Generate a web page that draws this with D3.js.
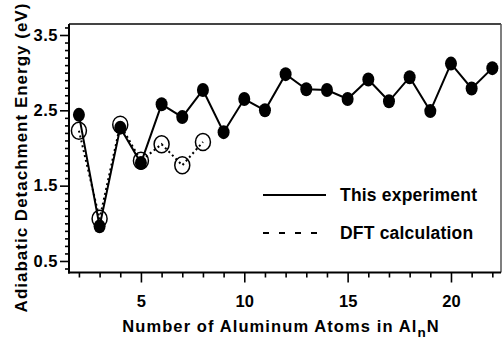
<!DOCTYPE html>
<html>
<head>
<meta charset="utf-8">
<script src="https://cdn.jsdelivr.net/npm/d3@7"></script>
<style>
  html, body { margin: 0; padding: 0; background: #fff; }
  svg { display: block; }
  text { font-family: "Liberation Sans", Arial, Helvetica, sans-serif; font-weight: bold; fill: #000; }
</style>
</head>
<body>
<svg id="chart" width="502" height="338"></svg>
<script>
// Cluster sizes n for Al_nN
const sizesExp = [2, 3, 4, 5, 6, 7, 8, 9, 10, 11, 12, 13, 14, 15, 16, 17, 18, 19, 20, 21, 22];
// Measured adiabatic detachment energies (eV)
const adeExp = [2.44, 0.96, 2.27, 1.80, 2.58, 2.41, 2.77, 2.21, 2.65, 2.50, 2.98, 2.78, 2.77, 2.65, 2.91, 2.62, 2.94, 2.49, 3.12, 2.79, 3.06];
// DFT-calculated values for the small clusters
const sizesDft = [2, 3, 4, 5, 6, 7, 8];
const adeDft = [2.23, 1.06, 2.31, 1.83, 2.05, 1.77, 2.08];
// Axis ticks
const xMajorTicks = [5, 10, 15, 20];
const yMajorTicks = [0.5, 1.5, 2.5, 3.5];
const legendLabels = ["This experiment", "DFT calculation"];

const svg = d3.select("#chart");
const plotLeft = 69, plotRight = 501, plotTop = 24, plotBottom = 272.5;

const x = d3.scaleLinear().domain([1.52, 22.42]).range([plotLeft, plotRight]);
const y = d3.scaleLinear().domain([0.347, 3.646]).range([plotBottom, plotTop]);

// Frame: top and right edges
svg.append("line").attr("x1", plotLeft).attr("x2", plotRight).attr("y1", plotTop).attr("y2", plotTop)
  .attr("stroke", "#444").attr("stroke-width", 2);
svg.append("line").attr("x1", plotRight).attr("x2", plotRight).attr("y1", plotTop).attr("y2", plotBottom)
  .attr("stroke", "#555").attr("stroke-width", 1.5);

// Bottom axis: minor ticks at every integer, longer ones at multiples of 5
const xMinor = d3.range(2, 23).filter(v => !xMajorTicks.includes(v));
const xAxisMinor = d3.axisBottom(x).tickValues(xMinor).tickSize(5).tickFormat("");
const xAxisMajor = d3.axisBottom(x).tickValues(xMajorTicks).tickSize(10).tickFormat(d3.format("d")).tickPadding(13);
const gxm = svg.append("g").attr("transform", `translate(0,${plotBottom})`).call(xAxisMinor);
const gx = svg.append("g").attr("transform", `translate(0,${plotBottom})`).call(xAxisMajor);
[gxm, gx].forEach(g => {
  g.select(".domain").remove();
  g.selectAll(".tick line").attr("stroke", "#000").attr("stroke-width", 1.6);
});
gx.selectAll(".tick text").attr("font-size", 16.5).attr("dy", "0.71em")
  .style("font-family", "Liberation Sans, Arial, sans-serif").style("font-weight", "bold");

// Left axis: minor ticks every 0.1, labelled majors
const yMinor = d3.range(4, 37).map(v => v / 10).filter(v => !yMajorTicks.some(m => Math.abs(m - v) < 1e-9));
const yAxisMinor = d3.axisLeft(y).tickValues(yMinor).tickSize(4).tickFormat("");
const yAxisMajor = d3.axisLeft(y).tickValues(yMajorTicks).tickSize(9).tickFormat(d3.format(".1f")).tickPadding(2);
const gym = svg.append("g").attr("transform", `translate(${plotLeft},0)`).call(yAxisMinor);
const gy = svg.append("g").attr("transform", `translate(${plotLeft},0)`).call(yAxisMajor);
[gym, gy].forEach(g => {
  g.select(".domain").remove();
  g.selectAll(".tick line").attr("stroke", "#000").attr("stroke-width", 1.6);
});
gy.selectAll(".tick text").attr("font-size", 16.5).attr("letter-spacing", 0.5)
  .style("font-family", "Liberation Sans, Arial, sans-serif").style("font-weight", "bold");

// Axis lines
svg.append("line").attr("x1", plotLeft).attr("x2", plotLeft).attr("y1", plotTop).attr("y2", plotBottom + 1)
  .attr("stroke", "#000").attr("stroke-width", 2);
svg.append("line").attr("x1", plotLeft - 1).attr("x2", plotRight).attr("y1", plotBottom).attr("y2", plotBottom)
  .attr("stroke", "#000").attr("stroke-width", 2);

// DFT series: dotted line with open circles
const dft = sizesDft.map((n, i) => ({ n, v: adeDft[i] }));
const exp = sizesExp.map((n, i) => ({ n, v: adeExp[i] }));
const line = d3.line().x(d => x(d.n)).y(d => y(d.v));

svg.append("path").datum(dft).attr("d", line)
  .attr("fill", "none").attr("stroke", "#000").attr("stroke-width", 2).attr("stroke-dasharray", "2,3");
svg.append("g").selectAll("ellipse").data(dft).join("ellipse")
  .attr("cx", d => x(d.n)).attr("cy", d => y(d.v)).attr("rx", 7.5).attr("ry", 8.5)
  .attr("fill", "none").attr("stroke", "#000").attr("stroke-width", 1.5);

// Experimental series: solid line with filled circles
svg.append("path").datum(exp).attr("d", line)
  .attr("fill", "none").attr("stroke", "#000").attr("stroke-width", 2);
svg.append("g").selectAll("ellipse").data(exp).join("ellipse")
  .attr("cx", d => x(d.n)).attr("cy", d => y(d.v)).attr("rx", 6).attr("ry", 7)
  .attr("fill", "#000");

// Legend
const legend = svg.append("g");
legend.append("line").attr("x1", 263).attr("x2", 326).attr("y1", 195).attr("y2", 195)
  .attr("stroke", "#000").attr("stroke-width", 2);
legend.append("text").attr("x", 340).attr("y", 201).attr("font-size", 17.5).attr("letter-spacing", 0.2)
  .text(legendLabels[0]);
legend.append("line").attr("x1", 263).attr("x2", 326).attr("y1", 233).attr("y2", 233)
  .attr("stroke", "#000").attr("stroke-width", 2).attr("stroke-dasharray", "6,10");
legend.append("text").attr("x", 340).attr("y", 239).attr("font-size", 17.5).attr("letter-spacing", 0.2)
  .text(legendLabels[1]);

// Axis titles
const xt = svg.append("text").attr("x", 281).attr("y", 331.5).attr("text-anchor", "middle")
  .attr("font-size", 16.5).attr("letter-spacing", 1.1);
xt.append("tspan").text("Number of Aluminum Atoms in Al");
xt.append("tspan").attr("font-size", 13.5).attr("dy", 5).text("n");
xt.append("tspan").attr("dy", -5).text("N");

svg.append("text").attr("transform", "translate(27,157.5) rotate(-90)").attr("text-anchor", "middle")
  .attr("font-size", 17).attr("letter-spacing", 1.0).text("Adiabatic Detachment Energy (eV)");
</script>
</body>
</html>
